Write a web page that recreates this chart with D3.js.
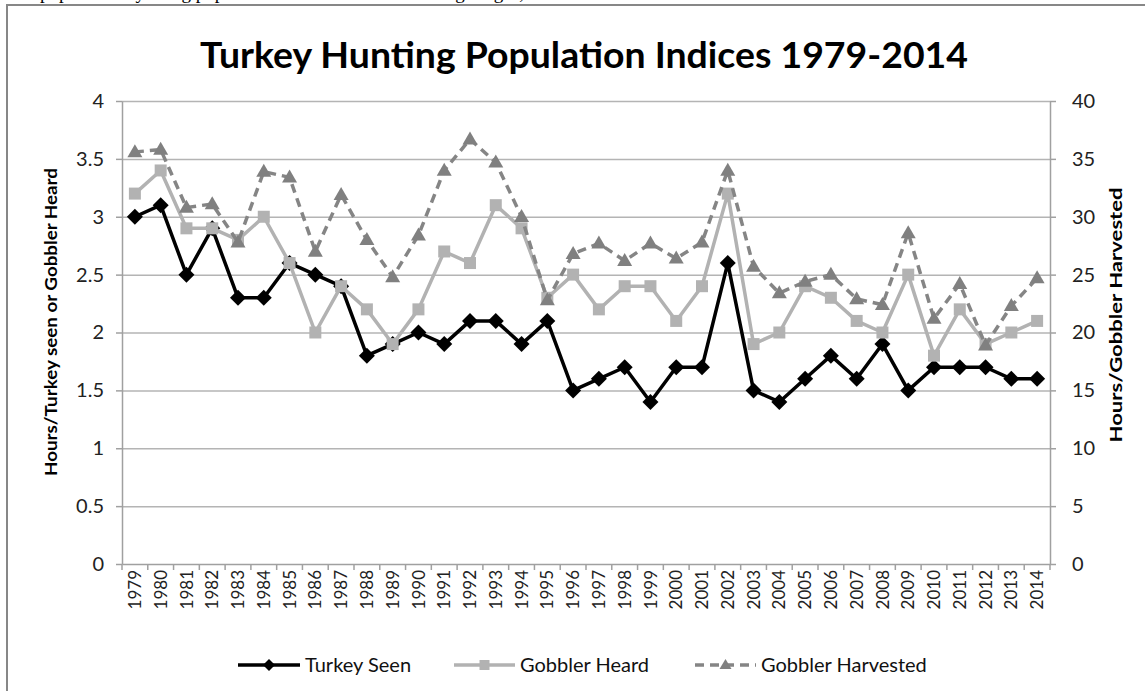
<!DOCTYPE html>
<html>
<head>
<meta charset="utf-8">
<script src="https://cdn.jsdelivr.net/npm/d3@7"></script>
<style>
  html, body { margin: 0; padding: 0; background: #fff; }
  svg { display: block; }
  text { font-family: Lato, "Noto Sans", sans-serif; }
</style>
</head>
<body>
<svg id="chart" width="1145" height="691"></svg>
<script>
// ---------- data ----------
const years = ["1979","1980","1981","1982","1983","1984","1985","1986","1987","1988",
  "1989","1990","1991","1992","1993","1994","1995","1996","1997","1998","1999","2000",
  "2001","2002","2003","2004","2005","2006","2007","2008","2009","2010","2011","2012",
  "2013","2014"];
const turkeySeen = [3.0,3.1,2.5,2.9,2.3,2.3,2.6,2.5,2.4,1.8,1.9,2.0,1.9,2.1,2.1,1.9,2.1,
  1.5,1.6,1.7,1.4,1.7,1.7,2.6,1.5,1.4,1.6,1.8,1.6,1.9,1.5,1.7,1.7,1.7,1.6,1.6];
const gobblerHeard = [3.2,3.4,2.9,2.9,2.8,3.0,2.6,2.0,2.4,2.2,1.9,2.2,2.7,2.6,3.1,2.9,2.3,
  2.5,2.2,2.4,2.4,2.1,2.4,3.2,1.9,2.0,2.4,2.3,2.1,2.0,2.5,1.8,2.2,1.9,2.0,2.1];
const gobblerHarvested = [35.6,35.8,30.8,31.1,27.8,33.9,33.4,27.0,31.9,28.0,24.8,28.4,34.0,
  36.7,34.7,30.0,22.8,26.8,27.7,26.2,27.7,26.4,27.8,34.0,25.7,23.4,24.4,25.0,22.9,22.4,
  28.6,21.2,24.2,18.9,22.3,24.7];
const leftTicks = [0,0.5,1,1.5,2,2.5,3,3.5,4];
const leftTickLabels = ["0","0.5","1","1.5","2","2.5","3","3.5","4"];
const rightTicks = [0,5,10,15,20,25,30,35,40];
const seriesNames = ["Turkey Seen","Gobbler Heard","Gobbler Harvested"];
const titleText = "Turkey Hunting Population Indices 1979-2014";
const leftTitle = "Hours/Turkey seen or Gobbler Heard";
const rightTitle = "Hours/Gobbler Harvested";
const pageText = "population by using population indices over the hunting ranges, the";

// ---------- layout ----------
const svg = d3.select("#chart");
const L = 122, R = 1050, T = 101, B = 564;

const x = d3.scaleBand().domain(years).range([L, R]);
const yL = d3.scaleLinear().domain([0, 4]).range([B, T]);
const yR = d3.scaleLinear().domain([0, 40]).range([B, T]);
const cx = d => x(d) + x.bandwidth() / 2;

// page text fragment at top (clipped by the page edge, as in the reference)
svg.append("text").attr("x", 40).attr("y", -1)
  .style("font-family", "'Liberation Serif', serif").style("font-size", "19px")
  .attr("fill", "#000").text(pageText);

// chart frame
svg.append("rect").attr("x", 7).attr("y", 5).attr("width", 1200).attr("height", 800)
  .attr("fill", "#fff").attr("stroke", "#878787").attr("stroke-width", 2);

// gridlines
const grid = svg.append("g").attr("transform", `translate(${L},0)`)
  .call(d3.axisLeft(yL).tickValues(leftTicks.slice(1)).tickSize(-(R - L)).tickFormat(""));
grid.select(".domain").remove();
grid.selectAll("line").attr("stroke", "#b4b4b4").attr("stroke-width", 1.5);

// left axis
const axL = svg.append("g").attr("transform", `translate(${L},0)`)
  .call(d3.axisLeft(yL).tickValues(leftTicks).tickSize(6).tickSizeOuter(0)
    .tickFormat((d, i) => leftTickLabels[i]).tickPadding(12));
axL.select(".domain").attr("stroke", "#a0a0a0").attr("stroke-width", 1.5);
axL.selectAll("line").attr("stroke", "#a0a0a0").attr("stroke-width", 1.5);
axL.selectAll("text").style("font-size", "20px").attr("fill", "#222");

// right axis
const axR = svg.append("g").attr("transform", `translate(${R},0)`)
  .call(d3.axisRight(yR).tickValues(rightTicks).tickSize(6).tickSizeOuter(0).tickPadding(16));
axR.select(".domain").attr("stroke", "#a0a0a0").attr("stroke-width", 1.5);
axR.selectAll("line").attr("stroke", "#a0a0a0").attr("stroke-width", 1.5);
axR.selectAll("text").style("font-size", "20px").attr("fill", "#222");

// bottom axis
const axB = svg.append("g").attr("transform", `translate(0,${B})`)
  .call(d3.axisBottom(x).tickSize(0).tickSizeOuter(0));
axB.select(".domain").attr("stroke", "#a0a0a0").attr("stroke-width", 1.5);
axB.selectAll("text")
  .attr("transform", "rotate(-90)")
  .attr("text-anchor", "end")
  .attr("x", -6).attr("y", 0).attr("dy", "0.36em")
  .style("font-size", "17px").attr("fill", "#222");
// band boundary tick marks
axB.selectAll(".btick").data(years.concat(["end"])).enter().append("line")
  .attr("class", "btick")
  .attr("x1", d => d === "end" ? R : x(d)).attr("x2", d => d === "end" ? R : x(d))
  .attr("y1", 0).attr("y2", 6).attr("stroke", "#a0a0a0").attr("stroke-width", 1.5);

// title
svg.append("text").attr("x", 584).attr("y", 68).attr("text-anchor", "middle")
  .style("font-size", "37px").style("font-weight", "bold")
  .attr("textLength", 768).attr("lengthAdjust", "spacingAndGlyphs")
  .text(titleText);

// axis titles
svg.append("text").attr("transform", "translate(57,322) rotate(-90)")
  .attr("text-anchor", "middle").style("font-size", "17px").style("font-weight", "bold")
  .attr("textLength", 308).attr("lengthAdjust", "spacingAndGlyphs")
  .text(leftTitle);
svg.append("text").attr("transform", "translate(1122,315) rotate(-90)")
  .attr("text-anchor", "middle").style("font-size", "17px").style("font-weight", "bold")
  .attr("textLength", 255).attr("lengthAdjust", "spacingAndGlyphs")
  .text(rightTitle);

// ---------- series ----------
const diamond = r => `M0,${-r}L${r},0L0,${r}L${-r},0Z`;
const square = s => `M${-s/2},${-s/2}h${s}v${s}h${-s}Z`;
const triangle = (w, h) => `M0,${-h*0.6}L${w/2},${h*0.4}L${-w/2},${h*0.4}Z`;

const styles = [
  { data: turkeySeen, y: yL, color: "#000000", dash: null, marker: diamond(8), mcolor: "#000000" },
  { data: gobblerHeard, y: yL, color: "#b2b2b2", dash: null, marker: square(12), mcolor: "#b2b2b2" },
  { data: gobblerHarvested, y: yR, color: "#858585", dash: "9,6", marker: triangle(15, 13), mcolor: "#808080" }
];

styles.forEach(s => {
  const line = d3.line().x((d, i) => cx(years[i])).y(d => s.y(d));
  svg.append("path").datum(s.data).attr("d", line)
    .attr("fill", "none").attr("stroke", s.color).attr("stroke-width", 3.5)
    .attr("stroke-linejoin", "round")
    .attr("stroke-dasharray", s.dash);
  svg.append("g").selectAll("path").data(s.data).enter().append("path")
    .attr("d", s.marker)
    .attr("transform", (d, i) => `translate(${cx(years[i])},${s.y(d)})`)
    .attr("fill", s.mcolor);
});

// ---------- legend ----------
const legendY = 665;
const legendItems = [
  { x0: 238, x1: 300, tx: 305, style: styles[0], marker: diamond(6) },
  { x0: 454, x1: 515, tx: 520, style: styles[1], marker: square(10) },
  { x0: 695, x1: 756, tx: 761, style: styles[2], marker: triangle(12, 10) }
];
legendItems.forEach((it, i) => {
  const g = svg.append("g");
  g.append("line").attr("x1", it.x0).attr("x2", it.x1).attr("y1", legendY).attr("y2", legendY)
    .attr("stroke", it.style.color).attr("stroke-width", 3.5)
    .attr("stroke-dasharray", it.style.dash);
  g.append("path").attr("d", it.marker)
    .attr("transform", `translate(${(it.x0 + it.x1) / 2},${legendY})`)
    .attr("fill", it.style.mcolor);
  g.append("text").attr("x", it.tx).attr("y", legendY).attr("dy", "0.35em")
    .style("font-size", "20px").attr("fill", "#111")
    .text(seriesNames[i]);
});
</script>
</body>
</html>
